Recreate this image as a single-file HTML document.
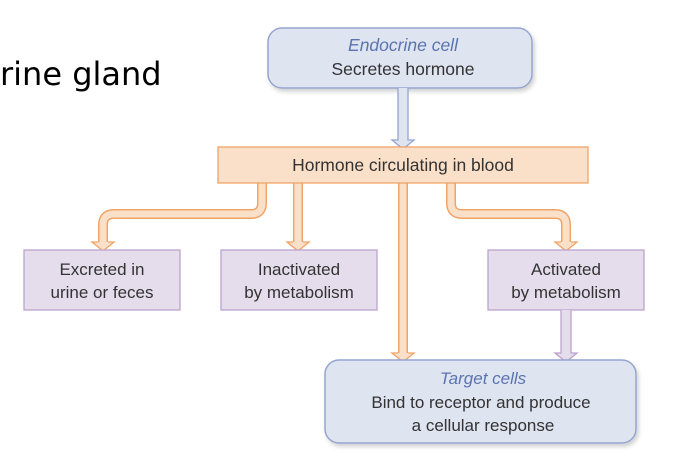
<!DOCTYPE html>
<html><head><meta charset="utf-8"><style>
html,body{margin:0;padding:0;background:#fff;}
svg{display:block;}
text{font-family:"Liberation Sans",sans-serif;fill:#333;}
</style></head><body>
<svg width="674" height="474" viewBox="0 0 674 474" xmlns="http://www.w3.org/2000/svg">
<defs>
<filter id="sh" x="-5%" y="-5%" width="115%" height="125%"><feDropShadow dx="2" dy="3" stdDeviation="2" flood-color="#000" flood-opacity="0.18"/></filter>
</defs>
<text x="0" y="85" style="font-family:'DejaVu Sans',sans-serif;font-size:32px;fill:#000">rine gland</text>

<rect x="268" y="28" width="264" height="60" rx="14" fill="#dfe4f1" stroke="#95a5cf" stroke-width="1.5" filter="url(#sh)"/>
<text x="403" y="51" text-anchor="middle" font-size="17.5" font-style="italic" style="fill:#5a74b0">Endocrine cell</text>
<text x="403" y="75" text-anchor="middle" font-size="17.5">Secretes hormone</text>

<path d="M398 88 V140 H392 L403 149 L414 140 H408 V88" fill="#dfe4f1" stroke="#95a5cf" stroke-width="1.3"/>

<g fill="none" stroke-linejoin="round">
<path d="M262 183 V203 Q262 214 251 214 H114 Q103 214 103 225 V244" stroke="#f0a468" stroke-width="10"/>
<path d="M262 183 V203 Q262 214 251 214 H114 Q103 214 103 225 V244" stroke="#fbe0c9" stroke-width="7"/>
<path d="M451 183 V203 Q451 214 462 214 H555 Q566 214 566 225 V244" stroke="#f0a468" stroke-width="10"/>
<path d="M451 183 V203 Q451 214 462 214 H555 Q566 214 566 225 V244" stroke="#fbe0c9" stroke-width="7"/>
<path d="M298 183 V244" stroke="#f0a468" stroke-width="10"/>
<path d="M298 183 V244" stroke="#fbe0c9" stroke-width="7"/>
<path d="M403 183 V356" stroke="#f0a468" stroke-width="10"/>
<path d="M403 183 V356" stroke="#fbe0c9" stroke-width="7"/>
</g>
<g fill="#fbe0c9" stroke="#f0a468" stroke-width="1.3">
<path d="M98 242 H92 L103 251 L114 242 H108"/>
<path d="M293 242 H287 L298 251 L309 242 H303"/>
<path d="M561 242 H555 L566 251 L577 242 H571"/>
<path d="M398 353 H392 L403 362 L414 353 H408"/>
</g>

<rect x="218" y="147" width="370" height="36" fill="#fbe0c9" stroke="#f0a468" stroke-width="1.3"/>
<text x="403" y="171" text-anchor="middle" font-size="17.5">Hormone circulating in blood</text>

<g fill="#e5ddec" stroke="#baa3cd" stroke-width="1.3">
<rect x="24" y="250" width="156" height="60"/>
<rect x="221" y="250" width="156" height="60"/>
<rect x="488" y="250" width="156" height="60"/>
</g>
<g font-size="17" text-anchor="middle">
<text x="102" y="275">Excreted in</text><text x="102" y="298">urine or feces</text>
<text x="299" y="275">Inactivated</text><text x="299" y="298">by metabolism</text>
<text x="566" y="275">Activated</text><text x="566" y="298">by metabolism</text>
</g>

<path d="M561 310 V353 H555 L566 362 L577 353 H571 V310" fill="#e5ddec" stroke="#baa3cd" stroke-width="1.3"/>

<rect x="325" y="360" width="311" height="83" rx="14" fill="#dfe4f1" stroke="#95a5cf" stroke-width="1.5" filter="url(#sh)"/>
<text x="483" y="384" text-anchor="middle" font-size="17" font-style="italic" style="fill:#5a74b0">Target cells</text>
<text x="481" y="408" text-anchor="middle" font-size="17">Bind to receptor and produce</text>
<text x="483" y="431" text-anchor="middle" font-size="17">a cellular response</text>
</svg>
</body></html>
